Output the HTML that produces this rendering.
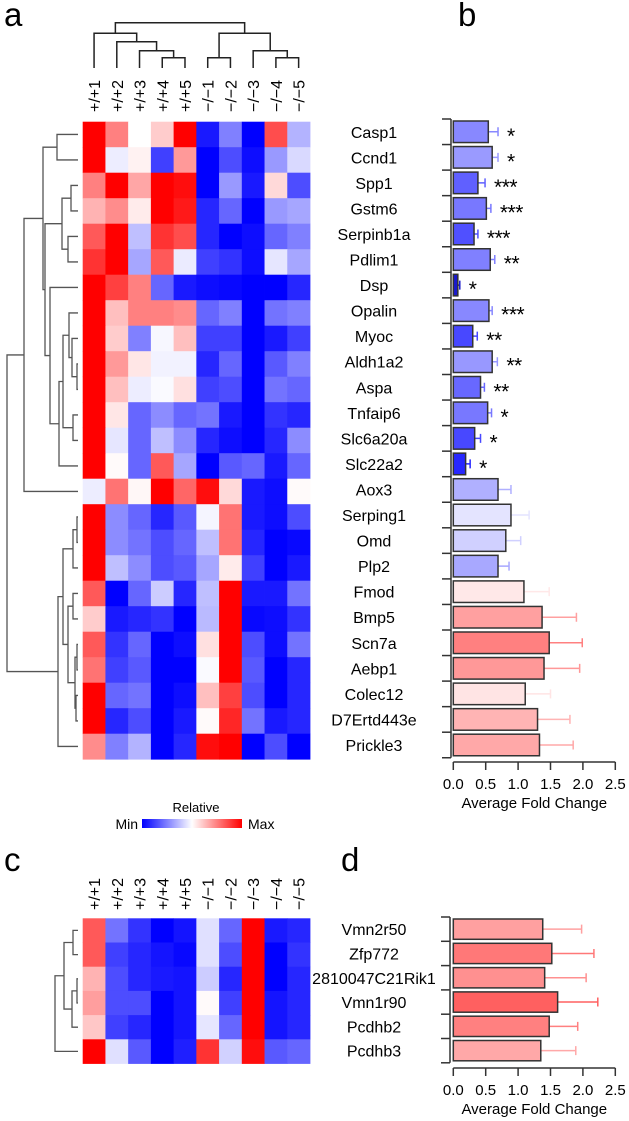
<!DOCTYPE html>
<html><head><meta charset="utf-8"><style>
html,body{margin:0;padding:0;background:#fff;}
svg{display:block;font-family:"Liberation Sans",Arial,sans-serif;}
</style></head><body>
<svg id="fig" width="629" height="1121" viewBox="0 0 629 1121" xmlns="http://www.w3.org/2000/svg">
<text x="4" y="26" font-size="33">a</text>
<text x="458" y="26" font-size="33">b</text>
<text x="4" y="871" font-size="33">c</text>
<text x="341" y="871" font-size="33">d</text>
<defs><linearGradient id="cb" x1="0" x2="1" y1="0" y2="0"><stop offset="0" stop-color="#0000ff"/><stop offset="0.5" stop-color="#ffffff"/><stop offset="1" stop-color="#ff0000"/></linearGradient></defs>
<text x="196" y="812" font-size="13" text-anchor="middle">Relative</text>
<rect x="142" y="819" width="100" height="9" fill="url(#cb)"/>
<text x="138" y="829" font-size="14" text-anchor="end">Min</text>
<text x="248" y="829" font-size="14">Max</text>
<g id="g"></g>
</svg>
<script>
const samples = ["+/+1","+/+2","+/+3","+/+4","+/+5","\u2212/\u22121","\u2212/\u22122","\u2212/\u22123","\u2212/\u22124","\u2212/\u22125"];
const genesA = ["Casp1","Ccnd1","Spp1","Gstm6","Serpinb1a","Pdlim1","Dsp","Opalin","Myoc","Aldh1a2","Aspa","Tnfaip6","Slc6a20a","Slc22a2","Aox3","Serping1","Omd","Plp2","Fmod","Bmp5","Scn7a","Aebp1","Colec12","D7Ertd443e","Prickle3"];
const heatA = [
[1,0.5,0,0.2,1,-0.9,-0.5,-1,0.7,-0.3],
[1,-0.07,0.05,-0.75,0.4,-1,-0.7,-0.95,-0.4,-0.15],
[0.5,1,0.35,1,0.95,-1,-0.4,-0.9,0.15,-0.7],
[0.3,0.45,0.08,1,0.9,-0.85,-0.6,-1,-0.4,-0.35],
[0.65,1,-0.25,0.8,0.7,-0.85,-1,-0.95,-0.6,-0.5],
[0.8,1,-0.35,0.65,-0.08,-0.75,-0.8,-0.95,-0.1,-0.35],
[1,0.75,0.5,-0.6,-0.9,-0.95,-0.97,-1,-1,-0.85],
[1,0.25,0.5,0.5,0.45,-0.6,-0.5,-1,-0.55,-0.5],
[1,0.2,-0.5,-0.03,0.25,-0.75,-0.75,-1,-0.9,-0.75],
[1,0.4,0.1,-0.05,-0.05,-0.85,-0.6,-1,-0.65,-0.5],
[1,0.25,-0.07,-0.02,0.12,-0.75,-0.7,-1,-0.55,-0.6],
[1,0.1,-0.6,-0.45,-0.6,-0.55,-0.9,-1,-0.8,-0.85],
[1,-0.1,-0.6,-0.25,-0.45,-0.85,-0.95,-1,-0.85,-0.45],
[1,0.02,-0.6,0.65,-0.35,-1,-0.65,-0.6,-0.9,-0.6],
[-0.07,0.55,0.03,1,0.6,0.95,0.15,-0.9,-0.95,0.02],
[1,-0.45,-0.6,-0.85,-0.65,-0.04,0.55,-0.9,-0.95,-0.7],
[1,-0.45,-0.55,-0.7,-0.6,-0.25,0.55,-0.85,-1,-0.97],
[1,-0.25,-0.45,-0.7,-0.65,-0.35,0.08,-0.75,-1,-0.9],
[0.65,-1,-0.6,-0.2,-0.85,-0.25,1,-0.9,-0.9,-0.55],
[0.2,-0.9,-0.85,-0.8,-1,-0.27,1,-0.97,-0.95,-0.8],
[0.65,-0.8,-0.6,-1,-0.95,0.12,1,-0.7,-0.95,-0.55],
[0.55,-0.75,-0.65,-1,-1,-0.02,1,-0.65,-1,-0.85],
[1,-0.6,-0.55,-1,-0.95,0.25,0.75,-0.7,-1,-0.85],
[1,-0.85,-0.7,-1,-0.9,0.02,0.85,-0.55,-0.9,-0.85],
[0.45,-0.5,-0.3,-1,-0.85,0.95,1,-1,-0.7,-1]];
const foldB = [0.54,0.60,0.38,0.51,0.32,0.57,0.07,0.55,0.30,0.60,0.42,0.53,0.33,0.19,0.69,0.89,0.81,0.69,1.09,1.37,1.48,1.40,1.11,1.30,1.33];
const semB = [0.15,0.09,0.11,0.07,0.06,0.07,0.03,0.05,0.07,0.08,0.06,0.06,0.09,0.07,0.20,0.28,0.23,0.17,0.39,0.53,0.51,0.55,0.39,0.50,0.52];
const sigB = ["*","*","***","***","***","**","*","***","**","**","**","*","*","*","","","","","","","","","","",""];
const colorB = ["#8888ff","#9a9aff","#6060ff","#7878ff","#5050ff","#8080ff","#1a1acc","#8888ff","#4848ff","#9898ff","#6868ff","#7878ff","#4848ff","#2828ff","#b0b0ff","#e4e4ff","#d0d0ff","#a8a8ff","#ffe8e8","#ffa0a0","#ff8080","#ff9898","#ffe4e4","#ffb4b4","#ffa8a8"];
const genesC = ["Vmn2r50","Zfp772","2810047C21Rik1","Vmn1r90","Pcdhb2","Pcdhb3"];
const heatC = [
[0.65,-0.55,-0.8,-1,-0.92,-0.12,-0.6,1,-0.9,-0.85],
[0.65,-0.75,-0.85,-0.92,-0.97,-0.12,-0.7,1,-1,-0.8],
[0.3,-0.7,-0.85,-0.9,-0.92,-0.2,-0.85,1,-1,-0.85],
[0.38,-0.7,-0.7,-1,-0.92,0.02,-0.75,1,-0.92,-0.85],
[0.22,-0.75,-0.85,-1,-0.92,-0.1,-0.6,1,-0.92,-0.85],
[1,-0.12,-0.65,-1,-0.88,0.8,-0.18,0.95,-0.65,-0.6]];
const foldD = [1.38,1.52,1.41,1.61,1.48,1.35];
const semD = [0.60,0.65,0.64,0.62,0.44,0.54];
const colorD = ["#ffa0a0","#ff7878","#ff9090","#ff6060","#ff8080","#ffa8a8"];
const ticks = [0,0.5,1,1.5,2,2.5];
const tickLabels = ["0.0","0.5","1.0","1.5","2.0","2.5"];
const colMerges = [[3,4,57.7],[2,10,50.7],[1,11,41.7],[0,12,33.3],[5,6,57.7],[8,9,57.7],[7,15,50.7],[14,16,33.3],[13,17,22.7]];
const rowMergesA = [[0,1,57],[2,3,71],[4,5,68],[26,27,62],[9,10,77],[8,29,72],[7,30,69],[11,12,73],[31,32,63],[33,13,59],[6,34,50],[28,35,45],[25,36,43],[37,14,24],[15,16,77],[39,17,73],[18,19,73],[20,21,77],[22,23,76],[42,43,75],[41,44,68],[40,45,63],[46,24,58],[38,47,7]];
const rowMergesC = [[0,1,73],[2,3,77],[7,4,72],[6,8,64],[9,5,55]];

const NS="http://www.w3.org/2000/svg";
const G=document.getElementById('g');
function mk(tag,attrs,parent){const e=document.createElementNS(NS,tag);for(const k in attrs)e.setAttribute(k,attrs[k]);(parent||G).appendChild(e);return e;}
function heatColor(v){v=Math.max(-1,Math.min(1,v));let r,g,b;if(v<0){r=g=Math.round(255*(1+v));b=255;}else{r=255;g=b=Math.round(255*(1-v));}return `rgb(${r},${g},${b})`;}
const hmX0=82.7, cw=22.73;
function colX(i){return hmX0+cw*(i+0.5);}

function drawHeat(data,genes,y0,rh,name){
  const grp=mk('g',{});
  
  
  data.forEach((row,i)=>row.forEach((v,j)=>{
    const r=mk('rect',{x:hmX0+cw*j,y:y0+rh*i,width:cw+0.4,height:rh+0.4,fill:heatColor(v)},grp);
    
    
  }));
}
function drawColLabels(yBottom,name){
  samples.forEach((s,j)=>{
    const t=mk('text',{x:0,y:0,'font-size':16,transform:`translate(${colX(j)+6},${yBottom}) rotate(-90)`});
    t.textContent=s;
    
    
  });
}
function drawRowDendro(merges,n,y0,rh,leafX,name){
  const pos=[];for(let i=0;i<n;i++)pos.push({y:y0+rh*(i+0.5),x:leafX});
  let d='';
  merges.forEach(m=>{const a=pos[m[0]],b=pos[m[1]],x=m[2];
    d+=`M${a.x},${a.y}H${x}V${b.y}H${b.x}`;pos.push({x:x,y:(a.y+b.y)/2});});
  const p=mk('path',{d:d,fill:'none',stroke:'#555',"stroke-width":1.3});
  
  
}
// Panel a
drawHeat(heatA,genesA,121.7,25.5,'heatmap-a');
drawColLabels(112,'column-label-a');
drawRowDendro(rowMergesA,25,121.7,25.5,78,'row-dendrogram-a');
(function(){const pos=[];for(let j=0;j<10;j++)pos.push({x:colX(j),y:68});let d='';
 colMerges.forEach(m=>{const a=pos[m[0]],b=pos[m[1]],y=m[2];d+=`M${a.x},${a.y}V${y}H${b.x}V${b.y}`;pos.push({x:(a.x+b.x)/2,y:y});});
 const p=mk('path',{d:d,fill:'none',stroke:'#222',"stroke-width":1.5});
 
 })();
// Panel c
drawHeat(heatC,genesC,918.3,24.2,'heatmap-c');
drawColLabels(910,'column-label-c');
drawRowDendro(rowMergesC,6,918.3,24.2,78,'row-dendrogram-c');

// Bar charts
const bx0=453.3, bk=64.8;
function xs(v){return bx0+v*bk;}
function drawBars(genes,fold,sem,cols,sig,y0,rh,axX,xAxisY,name){
  const grp=mk('g',{});
  
  
  const n=genes.length;
  const yax=mk('line',{x1:axX,x2:axX,y1:y0,y2:y0+rh*n,stroke:'#333','stroke-width':1.5},grp);
  
  
  for(let i=0;i<=n;i++){const tk=mk('line',{x1:axX-9,x2:axX,y1:y0+rh*i,y2:y0+rh*i,stroke:'#333','stroke-width':1.5},grp);
    
    }
  genes.forEach((g,i)=>{
    const yc=y0+rh*(i+0.5);
    const lab=mk('text',{x:374,y:yc+6,'font-size':16,'text-anchor':'middle'},grp);lab.textContent=g;
    
    
    const e1=xs(fold[i]),e2=xs(fold[i]+sem[i]);
    const el=mk('path',{d:`M${e1},${yc}H${e2}M${e2},${yc-4.5}V${yc+4.5}`,stroke:cols[i],'stroke-width':1.5,fill:'none'},grp);
    
    
    const r=mk('rect',{x:xs(0),y:y0+rh*i+2,width:e1-xs(0),height:rh-4,fill:cols[i],stroke:'#333','stroke-width':1.5},grp);
    
    
    if(sig&&sig[i]){const s=mk('text',{x:e2+9,y:yc+11,'font-size':21,'letter-spacing':'-0.5'},grp);s.textContent=sig[i];
      
      }
  });
  const xa=mk('line',{x1:xs(0),x2:xs(2.5),y1:xAxisY,y2:xAxisY,stroke:'#333','stroke-width':1.5},grp);
  
  
  ticks.forEach((t,k)=>{
    const tl=mk('line',{x1:xs(t),x2:xs(t),y1:xAxisY,y2:xAxisY+8,stroke:'#333','stroke-width':1.5},grp);
    
    
    const tt=mk('text',{x:xs(t),y:xAxisY+27,'font-size':15,'text-anchor':'middle'},grp);tt.textContent=tickLabels[k];
    
    
  });
  const ti=mk('text',{x:(xs(0)+xs(2.5))/2,y:xAxisY+46,'font-size':15,'text-anchor':'middle'},grp);ti.textContent='Average Fold Change';
  
  
}
drawBars(genesA,foldB,semB,colorB,sigB,119,25.55,451,762,'bar-chart-b');
drawBars(genesC,foldD,semD,colorD,null,917,24.3,450,1068,'bar-chart-d');
</script>
</body></html>
